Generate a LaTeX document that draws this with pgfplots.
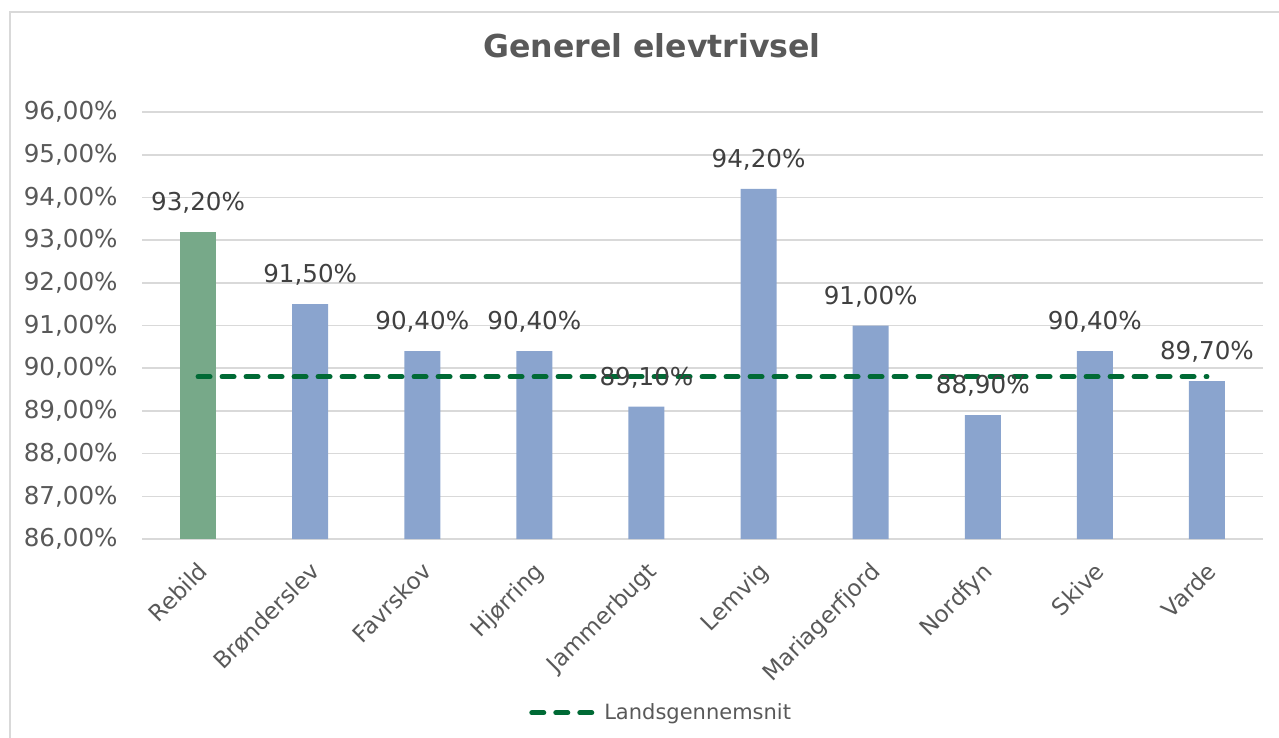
\documentclass[border=0pt]{standalone}
\usepackage{fontspec}
\setmainfont{DejaVu Sans}
\usepackage{pgfplots}
\pgfplotsset{compat=1.18}

\definecolor{txtgray}{HTML}{595959}
\definecolor{lblgray}{HTML}{404040}
\definecolor{gridgray}{HTML}{D9D9D9}
\definecolor{rebildgreen}{HTML}{77A989}
\definecolor{barblue}{HTML}{8AA4CE}
\definecolor{landsgreen}{HTML}{006A35}

\begin{document}
\begin{tikzpicture}
% page = 1279 x 738 px, 1 px = 0.5pt
\path[use as bounding box] (0,0) rectangle (639.5pt,-369pt);
\draw[gridgray, line width=1pt] (5pt,-6pt) rectangle (645pt,-375pt);
\node[font=\fontsize{15.8}{19}\selectfont\bfseries, text=txtgray] at (326pt,-23pt) {Generel elevtrivsel};

\begin{axis}[
	at={(71pt,-269.5pt)}, anchor=south west,
	scale only axis,
	width=560.5pt, height=213.5pt,
	xmin=-0.5, xmax=9.5,
	ymin=86, ymax=96,
	ytick distance=1,
	xtick={0,...,9},
	xticklabels={Rebild,Brønderslev,Favrskov,Hjørring,Jammerbugt,Lemvig,Mariagerfjord,Nordfyn,Skive,Varde},
	axis line style={draw=none},
	major tick length=0pt,
	ymajorgrids,
	grid style={gridgray, line width=0.8pt},
	/pgf/number format/.cd, use comma, fixed, fixed zerofill, precision=2, assume math mode=true,
	/pgfplots/.cd,
	yticklabel={\pgfmathprintnumber{\tick}\%},
	yticklabel style={font=\fontsize{12.3}{14}\selectfont, text=txtgray, anchor=east, inner sep=0pt, xshift=-12pt},
	xticklabel style={font=\fontsize{11.5}{14}\selectfont, text=txtgray, rotate=45, anchor=north east, inner sep=0pt, xshift=-8pt, yshift=-7pt},
	legend style={at={(0.464,-0.407)}, anchor=center, draw=none, fill=none,
		font=\fontsize{10.5}{12}\selectfont, text=txtgray},
	legend image code/.code={\draw[#1] (0pt,0pt) -- (33pt,0pt);},
	nodes near coords={\pgfmathprintnumber{\pgfplotspointmeta}\%},
	nodes near coords style={font=\fontsize{12.3}{14}\selectfont, text=lblgray, anchor=south, inner sep=0pt, yshift=9pt},
	]

	\addplot[ybar, bar width=18pt, bar shift=0pt, fill=rebildgreen, draw=none, forget plot]
	coordinates {(0,93.2)};

	\addplot[ybar, bar width=18pt, bar shift=0pt, fill=barblue, draw=none, forget plot]
	coordinates {
	(1,91.5)
	(2,90.4)
	(3,90.4)
	(4,89.1)
	(5,94.2)
	(6,91.0)
	(7,88.9)
	(8,90.4)
	(9,89.7)
	};

	\addplot[landsgreen, line width=2.5pt, line cap=round, dash pattern=on 6pt off 6pt, nodes near coords={}]
	coordinates {(0,89.8) (1,89.8) (2,89.8) (3,89.8) (4,89.8) (5,89.8) (6,89.8) (7,89.8) (8,89.8) (9,89.8)};
	\addlegendentry{Landsgennemsnit}

\end{axis}
\end{tikzpicture}
\end{document}
